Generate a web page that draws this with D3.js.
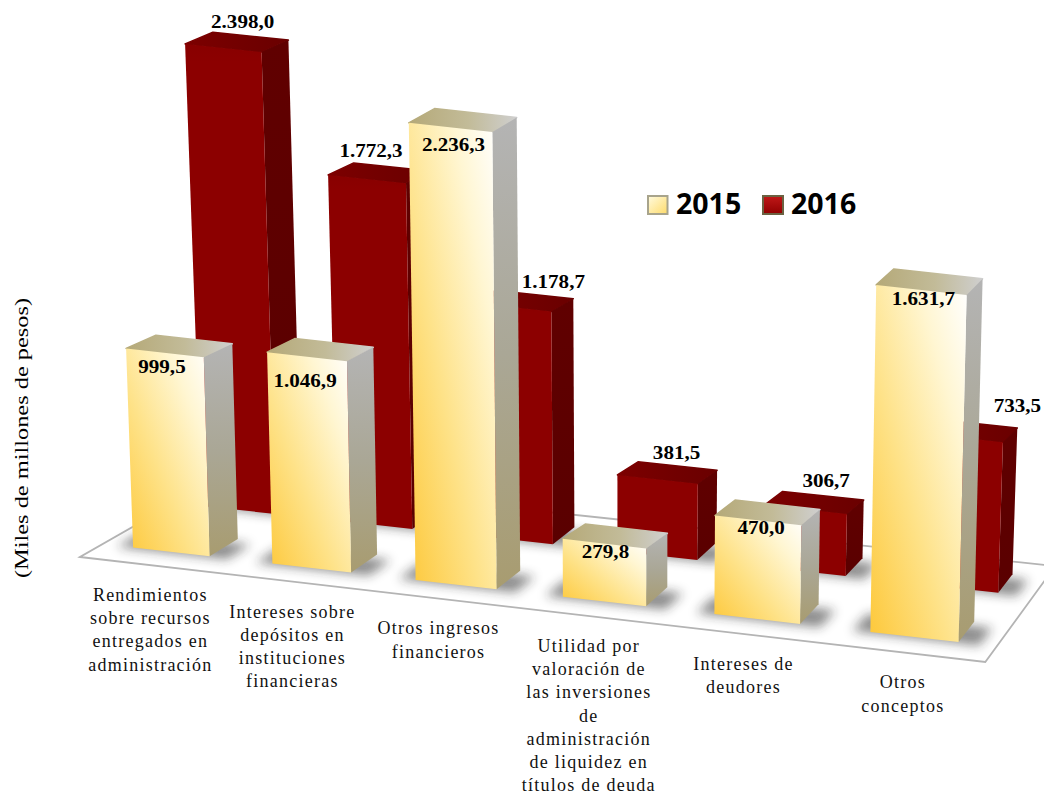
<!DOCTYPE html>
<html><head><meta charset="utf-8">
<script src="https://cdn.jsdelivr.net/npm/d3@7"></script>
<style>html,body{margin:0;padding:0;background:#fff}svg{display:block}</style>
</head><body><svg id="c" width="1044" height="796"></svg>
<script>
const categories = ["Rendimientos","Intereses","Otros ingresos","Utilidad","Intereses de","Otros"];
const categoryLines = [
  ["Rendimientos","sobre recursos","entregados en","administración"],
  ["Intereses sobre","depósitos en","instituciones","financieras"],
  ["Otros ingresos","financieros"],
  ["Utilidad por","valoración de","las inversiones","de","administración","de liquidez en","títulos de deuda"],
  ["Intereses de","deudores"],
  ["Otros","conceptos"]
];
const seriesNames = ["2015","2016"];
const values2015 = [999.5,1046.9,2236.3,279.8,470.0,1631.7];
const values2016 = [2398.0,1772.3,1178.7,381.5,306.7,733.5];
const axisTitle = "(Miles de millones de pesos)";

const svg = d3.select("#c");
const fmt = d3.formatLocale({decimal:",",thousands:".",grouping:[3],currency:["",""]}).format(",.1f");

// floor homography (unit square -> screen)
const G=-0.0825,H=0.0907;
function floor(u,v){const w=1+G*u+H*v;return [(824*u+160*v+80)/w,(50.4*u-36.7*v+557)/w];}
const uScale=d3.scaleBand().domain(categories).range([0.0037,0.994]).paddingInner(0.447).paddingOuter(0.2);
const vScale=d3.scaleBand().domain(seriesNames).range([0.0225,0.9915]).paddingInner(0.6).paddingOuter(0.25);
const perPx=d3.scaleLinear().domain([509,637]).range([0.1925,0.2127]);
const spread=d3.scaleLinear().domain([630,1630]).range([0,0.07]);
const rearShift=d3.scaleLinear().domain([205,1000]).range([-3,2]);
const path=pts=>"M"+pts.map(p=>p[0].toFixed(1)+","+p[1].toFixed(1)).join("L")+"Z";

// defs
const defs=svg.append("defs");
function grad(id,x1,y1,x2,y2,stops){
  const g=defs.append("linearGradient").attr("id",id).attr("x1",x1).attr("y1",y1).attr("x2",x2).attr("y2",y2);
  stops.forEach(s=>g.append("stop").attr("offset",s[0]).attr("stop-color",s[1]));
}
grad("yF",0,1,1,0,[[0,"#fdc83a"],[0.4,"#fee288"],[0.75,"#fff6d2"],[1,"#ffffff"]]);
grad("yS",0,0,0,1,[[0,"#b4b4b4"],[0.5,"#aaa796"],[1,"#a89c70"]]);
grad("yT",0,0,1,0,[[0,"#b5a978"],[0.55,"#c2bb98"],[1,"#cfcfcf"]]);
grad("rF",0,0,0,1,[[0,"#880000"],[0.04,"#8c0000"],[1,"#8c0000"]]);
grad("rS",0,0,0,1,[[0,"#600000"],[1,"#5a0000"]]);
grad("rT",0,0,1,0,[[0,"#7c0000"],[1,"#6a0000"]]);
grad("lgY",0,0,1,1,[[0,"#fffbe0"],[1,"#fedb6a"]]);
grad("lgR",0,0,0,1,[[0,"#c01818"],[1,"#900000"]]);
defs.append("filter").attr("id","blur").attr("x","-40%").attr("y","-60%").attr("width","180%").attr("height","220%")
  .append("feGaussianBlur").attr("stdDeviation",5.5);

// floor
svg.append("path").attr("d",path([floor(0,0),floor(1,0),floor(1,1),floor(0,1)]))
  .attr("fill","#fff").attr("stroke","#b4b4b4").attr("stroke-width",1.8);

function corners(cat,ser,val){
  const u0=uScale(cat),u1=u0+uScale.bandwidth(),v0=vScale(ser),v1=v0+vScale.bandwidth();
  const dx=ser==="2016"?rearShift(floor((u0+u1)/2,v0)[0]):0;
  const base=[floor(u0,v0),floor(u1,v0),floor(u1,v1),floor(u0,v1)].map(p=>[p[0]+dx,p[1]]);
  const h=val*perPx(floor((u0+u1)/2,v0)[1]);
  const k=ser==="2016"?1.2:1;
  const top=base.map((p,j)=>[p[0]+spread(p[0])*k*h,p[1]-h+(j>1?4:0)]);
  return {u0,u1,v0,v1,base,top};
}
const rows=s=>categories.map((c,i)=>({cat:c,ser:s,val:(s==="2015"?values2015:values2016)[i],i}));

function drawSeries(s,cls){
  const g=svg.append("g").attr("class","s"+s);
  rows(s).forEach(d=>{
    const k=corners(d.cat,d.ser,d.val);
    g.append("path").attr("filter","url(#blur)").attr("fill","#222").attr("opacity",0.52)
      .attr("d",path([floor(k.u0-0.018,k.v0-0.01),floor(k.u1+0.022,k.v0-0.01),floor(k.u1+0.022,k.v1-0.04),floor(k.u0-0.018,k.v1-0.04)]));
    g.append("path").attr("d",path([k.top[0],k.top[1],k.top[2],k.top[3]])).attr("fill",`url(#${cls}T)`)
      .attr("stroke",`url(#${cls}T)`).attr("stroke-width",1.5).attr("stroke-linejoin","round");
    g.append("path").attr("d",path([k.base[1],k.base[2],k.top[2],k.top[1]])).attr("fill",`url(#${cls}S)`);
    g.append("path").attr("d",path([k.base[0],k.base[1],k.top[1],k.top[0]])).attr("fill",`url(#${cls}F)`);
  });
}
drawSeries("2016","r");
drawSeries("2015","y");

// value labels
const nudge2015=[[-3,20],[-2,30],[3,24],[1,14],[3,14],[2,15]];
const nudge2016=[[-8,-8],[-21,-10],[19,-7],[-1,-7],[3,-9],[42,-11]];
["2016","2015"].forEach(s=>rows(s).forEach(d=>{
  const k=corners(d.cat,d.ser,d.val);
  const n=(s==="2015"?nudge2015:nudge2016)[d.i];
  const a=s==="2015"?[(k.top[0][0]+k.top[1][0])/2,(k.top[0][1]+k.top[1][1])/2]
                    :[(k.top[2][0]+k.top[3][0])/2,(k.top[2][1]+k.top[3][1])/2];
  svg.append("text").attr("transform",`translate(${a[0]+n[0]},${a[1]+n[1]}) scale(1.11,1)`)
    .attr("text-anchor","middle").attr("font-family","'Liberation Serif',serif")
    .attr("font-size",19).attr("font-weight","bold").attr("fill","#000").text(fmt(d.val));
}));

// category labels
categories.forEach((c,i)=>{
  const uc=uScale(c)+uScale.bandwidth()/2;
  const p=floor(uc,0);
  categoryLines[i].forEach((ln,j)=>svg.append("text").attr("x",p[0]+1).attr("y",p[1]+36+j*23.2)
    .attr("text-anchor","middle").attr("font-family","'Liberation Serif',serif")
    .attr("font-size",18).attr("letter-spacing",1.25).attr("fill","#111").text(ln));
});

// axis title
svg.append("text").attr("transform","translate(28,438) rotate(-90) scale(1.25,1)").attr("text-anchor","middle")
  .attr("font-family","'Liberation Serif',serif").attr("font-size",19.5).text(axisTitle);

// legend
const lx=d3.scalePoint().domain(seriesNames).range([647,762]);
seriesNames.forEach((s,i)=>{
  svg.append("rect").attr("x",lx(s)+1).attr("y",196).attr("width",i?20:19.5).attr("height",18)
    .attr("fill",i?"url(#lgR)":"url(#lgY)").attr("stroke",i?"#6b6242":"#a8a48c").attr("stroke-width",2);
  svg.append("text").attr("x",lx(s)+29).attr("y",214).text(s)
    .attr("font-family","'Open Sans',sans-serif").attr("font-weight",700).attr("font-size",28.5).attr("fill","#000");
});
</script></body></html>
